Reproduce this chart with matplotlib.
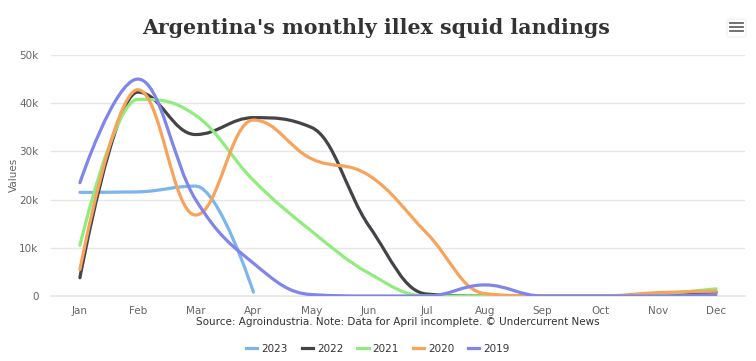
import numpy as np
import matplotlib
matplotlib.use("Agg")
import matplotlib.pyplot as plt
from matplotlib.path import Path
from matplotlib.patches import PathPatch, FancyBboxPatch
from matplotlib.lines import Line2D

# data
months = ['Jan', 'Feb', 'Mar', 'Apr', 'May', 'Jun',
          'Jul', 'Aug', 'Sep', 'Oct', 'Nov', 'Dec']
y2023 = [21500, 21600, 22800, 800]
y2022 = [3800, 42300, 33500, 37000, 35000, 14500, 400, 0, 0, 0, 300, 800]
y2021 = [10500, 40800, 37500, 24000, 13500, 4700, 0, 0, 0, 0, 400, 1500]
y2020 = [5500, 42800, 16800, 36500, 28500, 25000, 13000, 500, 0, 0, 700, 1000]
y2019 = [23500, 45000, 20000, 6800, 300, 0, 0, 2300, 0, 0, 0, 300]

series = [('2023', y2023, '#7cb5ec'),
          ('2022', y2022, '#434348'),
          ('2021', y2021, '#90ed7d'),
          ('2020', y2020, '#f7a35c'),
          ('2019', y2019, '#8085e9')]


def spline_path(xs, ys, smoothing=1.5):
    # highcharts style spline
    n = len(xs)
    lc = [None] * n
    rc = [None] * n
    d = smoothing + 1
    for i in range(1, n - 1):
        x, y = xs[i], ys[i]
        lx, ly = xs[i - 1], ys[i - 1]
        nx, ny = xs[i + 1], ys[i + 1]
        lcx = (smoothing * x + lx) / d
        lcy = (smoothing * y + ly) / d
        rcx = (smoothing * x + nx) / d
        rcy = (smoothing * y + ny) / d
        corr = (rcy - lcy) * (rcx - x) / (rcx - lcx) + y - rcy
        lcy += corr
        rcy += corr
        if lcy > ly and lcy > y:
            lcy = max(ly, y); rcy = 2 * y - lcy
        elif lcy < ly and lcy < y:
            lcy = min(ly, y); rcy = 2 * y - lcy
        if rcy > ny and rcy > y:
            rcy = max(ny, y); lcy = 2 * y - rcy
        elif rcy < ny and rcy < y:
            rcy = min(ny, y); lcy = 2 * y - rcy
        lc[i] = (lcx, lcy)
        rc[i] = (rcx, rcy)
    verts = [(xs[0], ys[0])]
    codes = [Path.MOVETO]
    for i in range(1, n):
        c1 = rc[i - 1] if rc[i - 1] else (xs[i - 1], ys[i - 1])
        c2 = lc[i] if lc[i] else (xs[i], ys[i])
        verts += [c1, c2, (xs[i], ys[i])]
        codes += [Path.CURVE4] * 3
    return Path(verts, codes)


fig = plt.figure(figsize=(7.56, 3.61), dpi=100)
W, H = 756, 361
ax = fig.add_axes([51 / W, 1 - 296 / H, 694 / W, 241 / H])

for name, vals, col in series:
    xs = list(range(len(vals)))
    p = spline_path(xs, vals)
    ax.add_patch(PathPatch(p, facecolor='none', edgecolor=col, lw=2.3,
                           capstyle='round', joinstyle='round', zorder=3))

ax.set_xlim(-0.5, 11.5)
ax.set_ylim(0, 50000)
ax.set_xticks(range(12))
ax.set_xticklabels(months)
ax.set_yticks(np.arange(0, 50001, 10000))
ax.set_yticklabels(['0', '10k', '20k', '30k', '40k', '50k'])
ax.tick_params(length=0, labelsize=7.5, colors='#666666', pad=7)
ax.tick_params(axis='y', pad=9)
ax.grid(axis='y', color='#e6e6e6', lw=1)
ax.set_axisbelow(True)
for s in ['top', 'right', 'left']:
    ax.spines[s].set_visible(False)
ax.spines['bottom'].set_color('#e6e6e6')
ax.spines['bottom'].set_linewidth(1.2)

fig.text(14 / W, 1 - 175 / H, 'Values', rotation=90, ha='center', va='center',
         fontsize=7.5, color='#666666')

fig.text(376 / W, 1 - 28 / H, "Argentina's monthly illex squid landings",
         ha='center', va='center', fontsize=14.8, fontweight='bold',
         family='DejaVu Serif', color='#333333')
fig.text(398 / W, 1 - 322 / H,
         "Source: Agroindustria. Note: Data for April incomplete. \u00a9 Undercurrent News",
         ha='center', va='center', fontsize=7.5, color='#333333')

handles = [Line2D([], [], color=c, lw=2.3) for _, _, c in series]
fig.legend(handles, [n for n, _, _ in series], loc='center', ncol=5,
           bbox_to_anchor=(378 / W, 1 - 349 / H), frameon=False,
           fontsize=7.5, handlelength=1.1, handletextpad=0.4,
           columnspacing=1.3, labelcolor='#333333')

# context menu button
fig.patches.append(FancyBboxPatch((727 / W, 1 - 37 / H), 19 / W, 18 / H,
                                  boxstyle='round,pad=0,rounding_size=0.005',
                                  transform=fig.transFigure, facecolor='white',
                                  edgecolor='#f0f0f0', lw=0.8))
for yy in [23, 27, 31]:
    fig.lines.append(Line2D([730 / W, 743 / W], [1 - yy / H, 1 - yy / H],
                            transform=fig.transFigure, color='#666666', lw=1.3))

fig.savefig('out.png', dpi=100, facecolor='white')
